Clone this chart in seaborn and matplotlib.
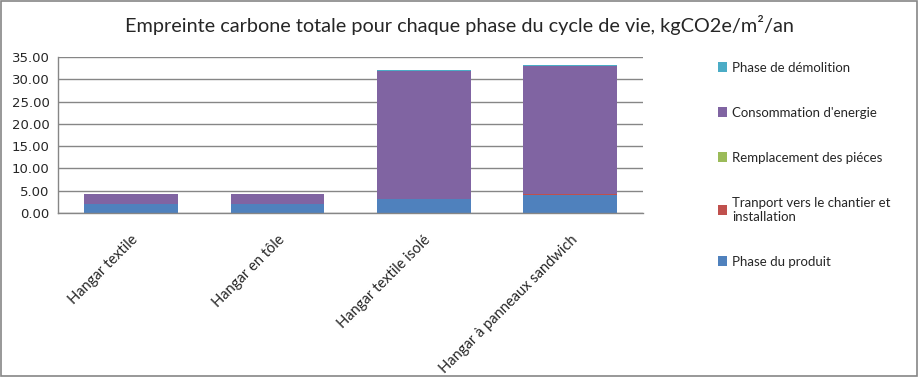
import numpy as np
import pandas as pd
import matplotlib
matplotlib.use("Agg")
import matplotlib.pyplot as plt
import seaborn as sns
from matplotlib.patches import Patch, Rectangle

categories = ["Hangar textile", "Hangar en tôle", "Hangar textile isolé", "Hangar à panneaux sandwich"]
produit = [1.95, 1.95, 3.07, 4.04]
transport = [0.03, 0.03, 0.10, 0.14]
remplacement = [0.01, 0.01, 0.01, 0.01]
energie = [2.22, 2.22, 28.74, 28.86]
demolition = [0.05, 0.05, 0.20, 0.15]

series_names = ["Phase du produit", "Tranport vers le chantier et\ninstallation",
                "Remplacement des piéces", "Consommation d'energie", "Phase de démolition"]
series_vals = [produit, transport, remplacement, energie, demolition]
colors = ["#4F81BD", "#C0504D", "#9BBB59", "#8064A2", "#4BACC6"]

sns.set_style("white")
plt.rcParams['font.family'] = ['Lato', 'DejaVu Sans']

fig = plt.figure(figsize=(9.19, 3.77), dpi=100)
fig.patches.append(Rectangle((0.001, 0.003), 0.997, 0.994, transform=fig.transFigure,
                             fill=False, edgecolor="#868686", linewidth=1.2))
ax = fig.add_axes([0.063, 0.435, 0.637, 0.414])

bottom = np.zeros(len(categories))
for name, vals, col in zip(series_names, series_vals, colors):
    df = pd.DataFrame({"cat": categories, "val": vals})
    sns.barplot(data=df, x="cat", y="val", order=categories, color=col, width=0.64,
                bottom=bottom, ax=ax, saturation=1, linewidth=0)
    bottom = bottom + np.array(vals)

if ax.get_legend() is not None:
    ax.get_legend().remove()

ax.set_ylim(0, 35)
ax.set_xlim(-0.5, 3.5)
ax.set_yticks(np.arange(0, 36, 5))
ax.set_yticklabels([f"{v:.2f}" for v in np.arange(0, 36, 5)], fontsize=9.5,
                   family=['DejaVu Sans'])
ax.yaxis.grid(True, color="#868686", linewidth=1)
ax.set_axisbelow(True)
for s in ["top", "right"]:
    ax.spines[s].set_visible(False)
for s in ["left", "bottom"]:
    ax.spines[s].set_color("#868686")
    ax.spines[s].set_linewidth(1)
ax.tick_params(axis="y", length=4, color="#868686", pad=2)
ax.tick_params(axis="x", length=0, pad=14)
ax.set_xlabel("")
ax.set_ylabel("")
ax.set_xticks(range(len(categories)))
ax.set_xticklabels(categories, rotation=45, ha="right", va="top",
                   rotation_mode="anchor", fontsize=10.5)

fig.text(0.5, 0.935, "Empreinte carbone totale pour chaque phase du cycle de vie, kgCO2e/m²/an",
         ha="center", va="center", fontsize=14.3, color="#262626")

handles = [Patch(facecolor=c, edgecolor="none") for c in colors][::-1]
labels = series_names[::-1]
fig.legend(handles, labels, loc="upper left", bbox_to_anchor=(0.768, 0.868),
           frameon=False, fontsize=9.5, labelspacing=2.5, handlelength=0.7,
           handleheight=0.7, handletextpad=0.4)

fig.savefig("out.png", dpi=100)
